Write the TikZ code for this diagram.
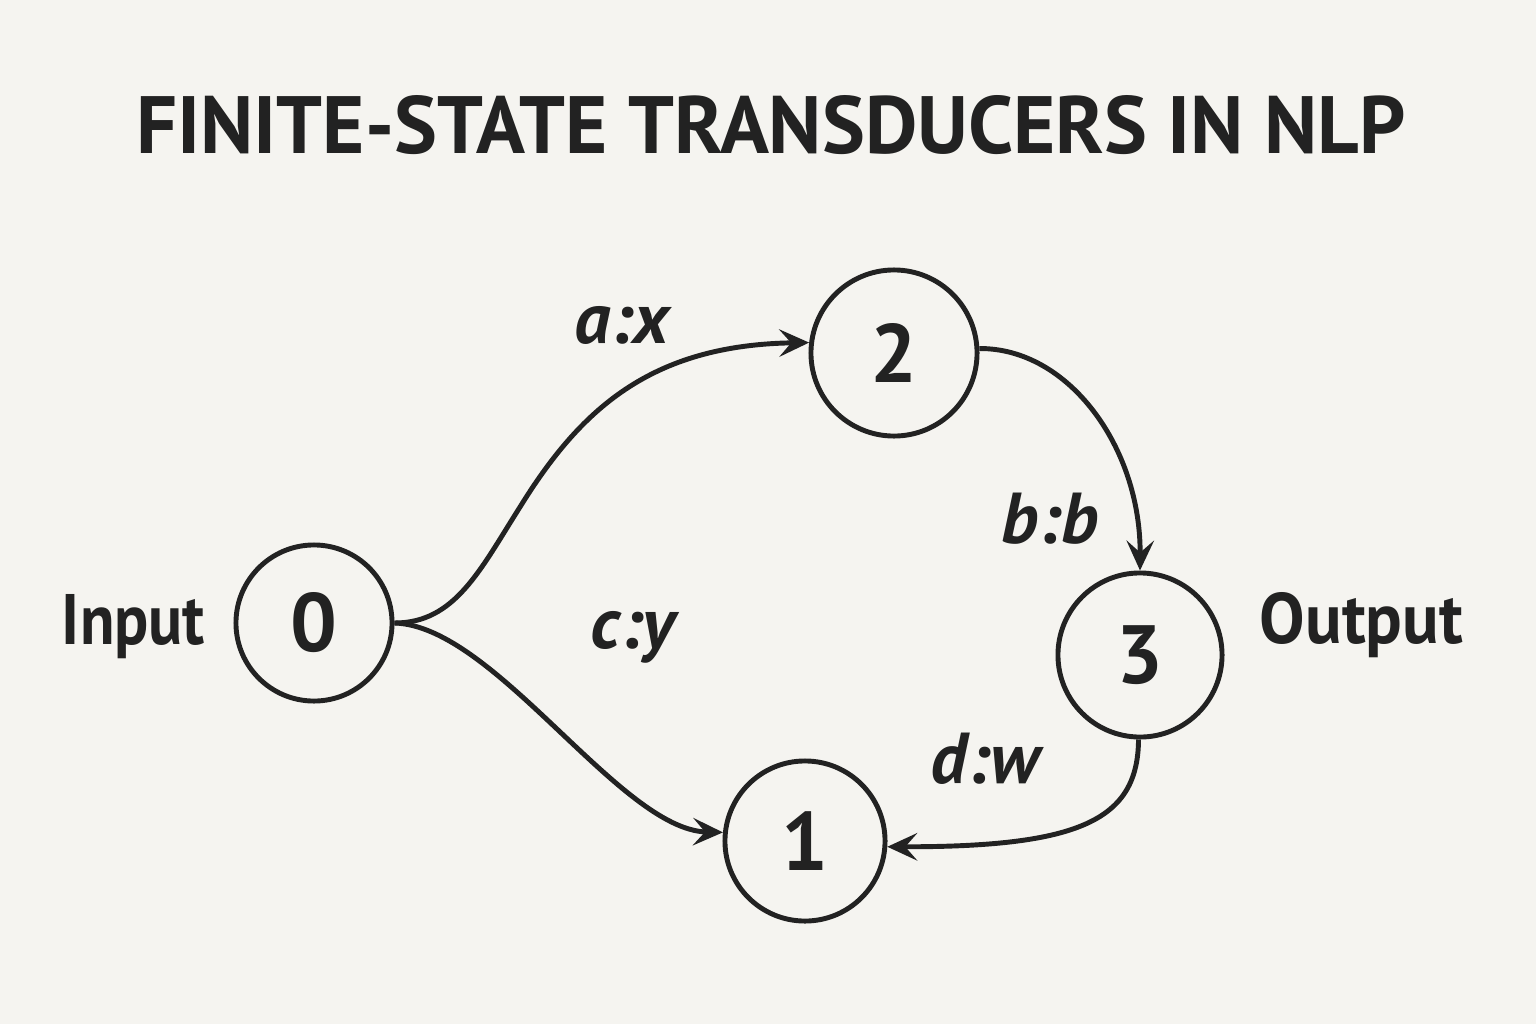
\documentclass[tikz,border=0pt]{standalone}
\usepackage{fontspec}
\setmainfont{PT Sans}
\usetikzlibrary{arrows.meta}
\definecolor{bg}{RGB}{245,244,240}
\definecolor{ink}{RGB}{34,34,34}
\begin{document}
\begin{tikzpicture}[x=0.01cm,y=-0.01cm,
  state/.style={circle, draw=ink, line width=1.4pt, inner sep=0pt, text=ink,
    font=\fontsize{23.5}{28}\selectfont\bfseries},
  elabel/.style={anchor=base, inner sep=0pt, text=ink,
    font=\fontsize{20.5}{24}\selectfont\bfseries\itshape},
  side/.style={anchor=base, inner sep=0pt, text=ink},
  edge/.style={draw=ink, line width=1.4pt,
    -{Stealth[length=8.5pt,width=7.8pt,inset=3.4pt]}}]
\fill[bg] (0,0) rectangle (1536,1024);
\useasboundingbox (0,0) rectangle (1536,1024);
\node[anchor=base, inner sep=0pt, text=ink] (title) at (771,153)
  {\resizebox{12.68cm}{0.58cm}{\bfseries FINITE-STATE TRANSDUCERS IN NLP}};
\node[state, minimum size=1.56cm] (n0) at (314,623) {0};
\node[state, minimum size=1.66cm] (n2) at (894,353) {2};
\node[state, minimum size=1.64cm] (n3) at (1140,655) {3};
\node[state, minimum size=1.60cm] (n1) at (805,841) {1};
\node[side] (in) at (133.5,644) {\resizebox{1.43cm}{0.50cm}{\bfseries Input}};
\node[side] (out) at (1361.5,643) {\resizebox{2.03cm}{0.51cm}{\bfseries Output}};
\node[elabel] (lax) at (622,343) {a:x};
\node[elabel] (lcy) at (633,648) {c:y};
\node[elabel] (lbb) at (1050,543) {b:b};
\node[elabel] (ldw) at (985,783) {d:w};
\draw[edge] (n0.east) .. controls (455,623) and (480,570) .. (520,507)
  .. controls (580,410) and (650,345) .. (n2.173);
\draw[edge] (n0.east) .. controls (495,626) and (620,830) .. (n1.174);
\draw[edge] (n2.3) .. controls (1069,348) and (1141,448) .. (n3.90);
\draw[edge] (n3.-91) .. controls (1138,820) and (1080,847) .. (n1.-4);
\end{tikzpicture}
\end{document}
